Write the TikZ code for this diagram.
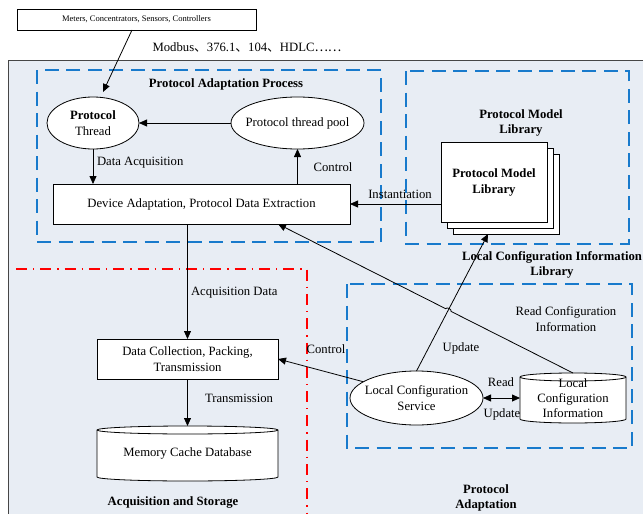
\documentclass[tikz,border=0pt]{standalone}
\usepackage{fontspec}
\setmainfont{Liberation Serif}
\newfontfamily\cjk{Noto Sans CJK SC}
\usetikzlibrary{arrows.meta,shapes.geometric,calc}
\definecolor{bgfill}{RGB}{232,237,244}
\definecolor{dashblue}{RGB}{24,122,204}
\definecolor{dashred}{RGB}{255,0,0}
\definecolor{bordercol}{RGB}{70,70,70}
\begin{document}
\begin{tikzpicture}[x=1pt,y=-1pt,
  every node/.style={font=\fontsize{12.7}{16}\selectfont, inner sep=0pt, outer sep=0pt, align=center},
  box/.style={draw, fill=white, line width=0.8pt},
  ell/.style={ellipse, draw, fill=white, line width=0.8pt},
  ghost/.style={draw=none, fill=none},
  arr/.style={-{Triangle[length=8pt,width=7pt]}, line width=0.8pt},
  dblarr/.style={{Triangle[length=8pt,width=7pt]}-{Triangle[length=8pt,width=7pt]}, line width=0.8pt},
  bluedash/.style={draw=dashblue, line width=2pt, dash pattern=on 14pt off 7.5pt},
  reddash/.style={draw=dashred, line width=1.3pt, dash pattern=on 11pt off 6pt on 1.3pt off 6pt},
  title/.style={font=\fontsize{12.7}{15}\selectfont\bfseries}
]
\useasboundingbox (0,0) rectangle (643,514);

% background panel
\fill[bgfill] (8,60) rectangle (643,514);
\draw[bordercol, line width=1pt] (8,514) -- (8,60) -- (643,60);

% source box and protocols
\node[box, minimum width=239, minimum height=21, font=\fontsize{8.5}{10}\selectfont] (src) at (136.5,19.5) {Meters, Concentrators, Sensors, Controllers};
\node (modbus) at (247,47) {Modbus{\cjk 、}376.1{\cjk 、}104{\cjk 、}HDLC{\cjk ……}};

% dashed groups
\draw[bluedash] (37,70) rectangle (381,242);
\draw[bluedash] (406,71) rectangle (629,244);
\draw[bluedash] (347,284) rectangle (632,448);
\draw[reddash] (16,269) -- (307,269) -- (307,514);

% group titles
\node[title] (tpap) at (226,84) {Protocol Adaptation Process};
\node[title] (tpml) at (521,122.5) {Protocol Model\\Library};
\node[title] (tlcil) at (552,264.5) {Local Configuration Information\\Library};
\node[title] (tacq) at (173,502) {Acquisition and Storage};
\node[title] (tpa) at (486,497.5) {Protocol\\Adaptation};

% protocol adaptation process
\node[ell, minimum width=92, minimum height=52,
  label={[align=center]center:{\textbf{Protocol}\\Thread}}] (pt) at (93,123) {};
\node[ell, minimum width=133, minimum height=52,
  label={[align=center]center:{Protocol thread pool}}] (pool) at (297.5,123) {};
\node[box, minimum width=297, minimum height=40] (dev) at (201.5,204) {Device Adaptation, Protocol Data Extraction};

% protocol model library stack
\node[box, minimum width=106, minimum height=80] (back3) at (506,194) {};
\node[box, minimum width=106, minimum height=80] (back2) at (500,188) {};
\node[box, minimum width=106, minimum height=80, font=\fontsize{12.7}{16}\selectfont\bfseries] (pml) at (494,182) {Protocol Model\\Library};

% acquisition and storage
\node[box, minimum width=181, minimum height=40] (dc) at (187.5,359) {Data Collection, Packing,\\Transmission};
\path node[ghost, minimum width=181, minimum height=47] (mem) at (187.5,453.5) {};
\draw[fill=white, line width=0.8pt] (mem.north west) -- (mem.south west)
  arc[start angle=180, end angle=360, x radius=90.5pt, y radius=4pt] -- (mem.north east)
  arc[start angle=0, end angle=180, x radius=90.5pt, y radius=4pt] -- cycle;
\draw[line width=0.8pt] (mem.north west) arc[start angle=180, end angle=360, x radius=90.5pt, y radius=4pt];
\node (memtext) at (mem.center) {Memory Cache Database};

% protocol adaptation (local configuration)
\node[ell, minimum width=133, minimum height=54,
  label={[align=center]center:{Local Configuration\\Service}}] (lcs) at (416.5,398) {};
\path node[ghost, minimum width=106, minimum height=42] (lci) at (573,398) {};
\draw[fill=white, line width=0.8pt] (lci.north west) -- (lci.south west)
  arc[start angle=180, end angle=360, x radius=53pt, y radius=4pt] -- (lci.north east)
  arc[start angle=0, end angle=180, x radius=53pt, y radius=4pt] -- cycle;
\draw[line width=0.8pt] (lci.north west) arc[start angle=180, end angle=360, x radius=53pt, y radius=4pt];
\node[font=\fontsize{12.7}{15}\selectfont] (lcitext) at (lci.center) {Local\\Configuration\\Information};

% connectors
\coordinate (srcout) at ($(src.south west)+(115,0)$);
\coordinate (ptin) at ($(pt.north)+(10,-5)$);
\draw[arr] (srcout) -- (ptin);
\draw[arr] (pool.west) -- (pt.east);
\draw[arr] (pt.south) -- (pt.south |- dev.north);
\draw[arr] (dev.north -| pool.south) -- (pool.south);
\draw[arr] (pml.west |- dev.east) -- (dev.east);
\draw[arr] (dev.south -| dc.north) -- (dc.north);
\draw[arr] (dc.south) -- ($(mem.north)+(0,-4)$);
\draw[arr] (lcs.163) -- (dc.east);
\draw[dblarr] (lcs.east) -- (lci.west);

\coordinate (upB) at ($(back3.south west)+(35,0)$);
\draw[arr] (lcs.north) -- (upB);
\coordinate (rcA) at ($(lci.north)+(0,-4)$);
\coordinate (rcB) at ($(dev.south west)+(225,0)$);
\coordinate (hop) at (intersection of lcs.north--upB and rcA--rcB);
\draw[arr] (rcA) -- ($(hop)!3pt!(rcA)$) to[bend right=90] ($(hop)!3pt!(rcB)$) -- (rcB);

% connector labels
\node[anchor=west] (lda) at (97,163) {Data Acquisition};
\node (lctl1) at (333,167) {Control};
\node (linst) at (400,194) {Instantiation};
\node[anchor=west] (lacq) at (191,293) {Acquisition Data};
\node[anchor=west] (ltr) at (205,398) {Transmission};
\node (lctl2) at (326,349) {Control};
\node (lupd1) at (461,348) {Update};
\node (lrci) at (566,319) {Read Configuration\\Information};
\node (lread) at (501,382) {Read};
\node (lupd2) at (502,414) {Update};
\end{tikzpicture}
\end{document}
